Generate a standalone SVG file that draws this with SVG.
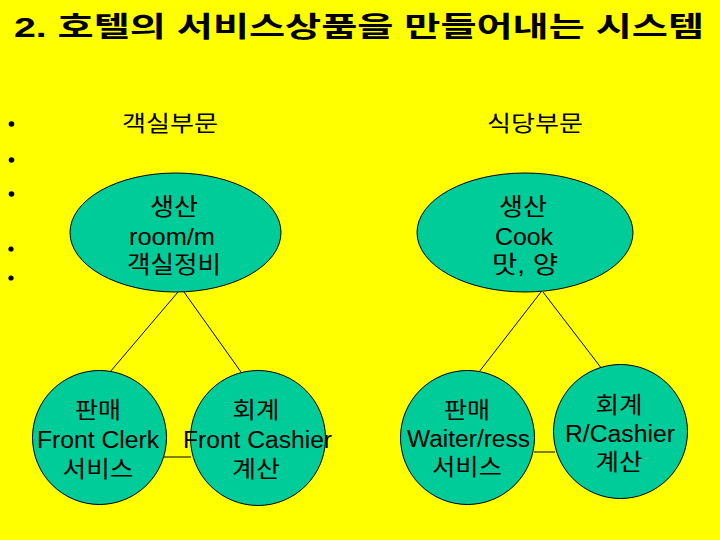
<svg xmlns="http://www.w3.org/2000/svg" width="720" height="540" viewBox="0 0 720 540">
<style>
.t{font-family:"Liberation Sans","Noto Sans CJK KR",Arial,sans-serif;fill:#000;text-anchor:middle}
.n{fill:#00CC99;stroke:#000;stroke-width:1}
.c{stroke:#000;stroke-width:1;fill:none}
.big{font-size:24px}
.sm{font-size:23px}
</style>
<rect x="0" y="0" width="720" height="540" fill="#FFFF00"/>
<text x="14" y="37" class="t" style="text-anchor:start;font-size:28px;font-weight:bold" textLength="690" lengthAdjust="spacingAndGlyphs">2. 호텔의 서비스상품을 만들어내는 시스템</text>
<g id="bullets" fill="#000">
<circle cx="11.5" cy="124" r="2.8"/>
<circle cx="11.5" cy="160" r="2.8"/>
<circle cx="11.5" cy="194" r="2.8"/>
<circle cx="11" cy="249" r="2.6"/>
<circle cx="11" cy="278" r="2.6"/>
</g>
<text x="170" y="131" class="t" style="font-size:22px" textLength="96" lengthAdjust="spacingAndGlyphs">객실부문</text>
<text x="535" y="131" class="t" style="font-size:22px" textLength="96" lengthAdjust="spacingAndGlyphs">식당부문</text>
<g id="connectors">
<line class="c" x1="178" y1="292" x2="110" y2="372"/>
<line class="c" x1="184" y1="292" x2="241" y2="372"/>
<line class="c" x1="164" y1="457" x2="191" y2="457"/>
<line class="c" x1="541" y1="292" x2="479" y2="372"/>
<line class="c" x1="543" y1="292" x2="602" y2="369"/>
<line class="c" x1="534" y1="452" x2="555" y2="452"/>
</g>
<g id="room-production">
<ellipse class="n" cx="175.5" cy="232.5" rx="105.5" ry="59.5"/>
<text x="174" y="215" class="t big" textLength="48" lengthAdjust="spacingAndGlyphs">생산</text>
<text x="172" y="245" class="t big" textLength="86" lengthAdjust="spacingAndGlyphs">room/m</text>
<text x="174" y="273" class="t big" textLength="94" lengthAdjust="spacingAndGlyphs">객실정비</text>
</g>
<g id="food-production">
<ellipse class="n" cx="525" cy="232.5" rx="108" ry="59.5"/>
<text x="523" y="215" class="t big" textLength="48" lengthAdjust="spacingAndGlyphs">생산</text>
<text x="524" y="245" class="t big" textLength="58" lengthAdjust="spacingAndGlyphs">Cook</text>
<text x="525" y="273" class="t big" textLength="66" lengthAdjust="spacingAndGlyphs">맛, 양</text>
</g>
<g id="front-clerk">
<circle class="n" cx="99.5" cy="437.5" r="67"/>
<text x="98" y="418" class="t sm" textLength="46" lengthAdjust="spacingAndGlyphs">판매</text>
<text x="98" y="448" class="t sm" textLength="122" lengthAdjust="spacingAndGlyphs">Front Clerk</text>
<text x="98" y="477" class="t sm" textLength="71" lengthAdjust="spacingAndGlyphs">서비스</text>
</g>
<g id="front-cashier">
<circle class="n" cx="258" cy="438" r="67.5"/>
<text x="256" y="418" class="t sm" textLength="47" lengthAdjust="spacingAndGlyphs">회계</text>
<text x="257.5" y="448" class="t sm" textLength="149" lengthAdjust="spacingAndGlyphs">Front Cashier</text>
<text x="256" y="477" class="t sm" textLength="48" lengthAdjust="spacingAndGlyphs">계산</text>
</g>
<g id="waiter">
<circle class="n" cx="467.5" cy="437.5" r="67"/>
<text x="467" y="418" class="t sm" textLength="46" lengthAdjust="spacingAndGlyphs">판매</text>
<text x="468.5" y="447" class="t sm" textLength="123" lengthAdjust="spacingAndGlyphs">Waiter/ress</text>
<text x="467" y="475" class="t sm" textLength="70" lengthAdjust="spacingAndGlyphs">서비스</text>
</g>
<g id="r-cashier">
<circle class="n" cx="620.5" cy="431.5" r="67"/>
<text x="619" y="413" class="t sm" textLength="47" lengthAdjust="spacingAndGlyphs">회계</text>
<text x="620" y="442" class="t sm" textLength="110" lengthAdjust="spacingAndGlyphs">R/Cashier</text>
<text x="619" y="470" class="t sm" textLength="47" lengthAdjust="spacingAndGlyphs">계산</text>
</g>
</svg>
